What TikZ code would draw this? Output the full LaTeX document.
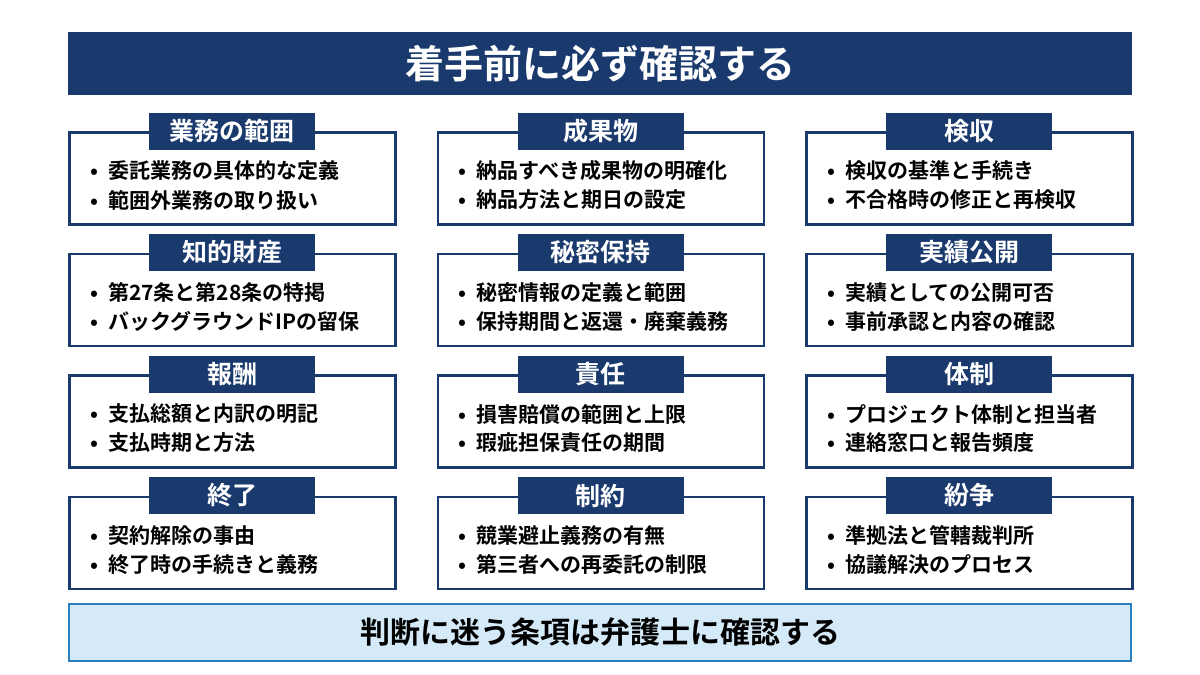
\documentclass[tikz,border=0pt]{standalone}
\usepackage{fontspec}
\setmainfont{Noto Sans CJK JP}[BoldFont={* Bold}]
\definecolor{navy}{HTML}{1A3A6E}
\definecolor{lblue}{HTML}{D5EAF8}
\definecolor{mblue}{HTML}{2A7FBF}
\begin{document}
\begin{tikzpicture}[x=1pt,y=-1pt,
  box/.style={draw=navy,line width=2.5pt,fill=white,minimum width=326pt,minimum height=92pt,anchor=north west,inner sep=0},
  tab/.style={fill=navy,text=white,font=\bfseries\fontsize{25}{28}\selectfont,minimum width=166pt,minimum height=37pt,inner sep=0},
  item/.style={anchor=west,font=\bfseries\fontsize{21}{24}\selectfont,inner sep=0,align=left}]
\useasboundingbox (0,0) rectangle (1200,675);
\fill[white] (0,0) rectangle (1200,675);
\node[fill=navy,text=white,font=\bfseries\fontsize{39}{44}\selectfont,minimum width=1064pt,minimum height=63pt,inner sep=0] (title) at (600,63.5) {着手前に必ず確認する};
\foreach \i/\col/\row/\head/\a/\b in {
 1/0/0/業務の範囲/委託業務の具体的な定義/範囲外業務の取り扱い,
 2/1/0/成果物/納品すべき成果物の明確化/納品方法と期日の設定,
 3/2/0/検収/検収の基準と手続き/不合格時の修正と再検収,
 4/0/1/知的財産/第27条と第28条の特掲/バックグラウンドIPの留保,
 5/1/1/秘密保持/秘密情報の定義と範囲/保持期間と返還・廃棄義務,
 6/2/1/実績公開/実績としての公開可否/事前承認と内容の確認,
 7/0/2/報酬/支払総額と内訳の明記/支払時期と方法,
 8/1/2/責任/損害賠償の範囲と上限/瑕疵担保責任の期間,
 9/2/2/体制/プロジェクト体制と担当者/連絡窓口と報告頻度,
 10/0/3/終了/契約解除の事由/終了時の手続きと義務,
 11/1/3/制約/競業避止義務の有無/第三者への再委託の制限,
 12/2/3/紛争/準拠法と管轄裁判所/協議解決のプロセス}{
  \pgfmathsetmacro{\X}{68+\col*368.5}
  \pgfmathsetmacro{\Y}{131+\row*121.5}
  \node[box] (b\i) at (\X,\Y) {};
  \node[tab] (t\i) at (b\i.north) {\head};
  \node[item] (i\i a) at (\X+22,\Y+40) {•\hspace{10pt}\a};
  \node[item] (i\i b) at (\X+22,\Y+69) {•\hspace{10pt}\b};
}
\node[draw=mblue,line width=2pt,fill=lblue,font=\bfseries\fontsize{30}{34}\selectfont,minimum width=1062pt,minimum height=57pt,inner sep=0] (foot) at (600,632.5) {判断に迷う条項は弁護士に確認する};
\end{tikzpicture}
\end{document}
